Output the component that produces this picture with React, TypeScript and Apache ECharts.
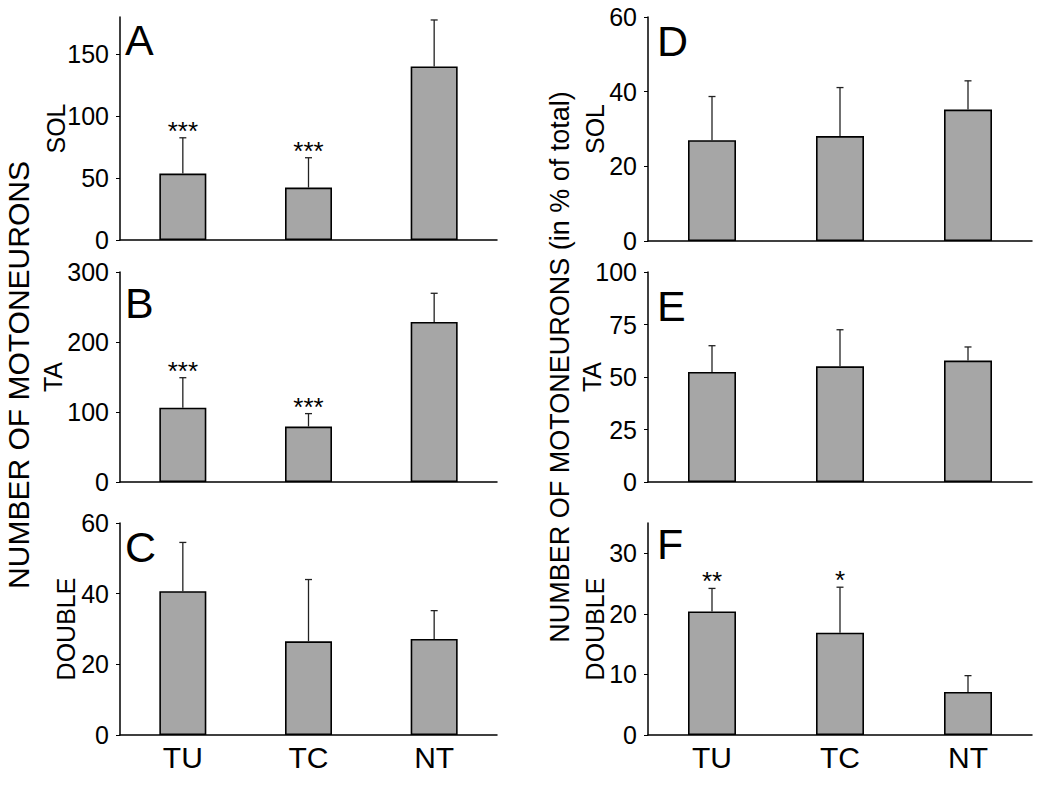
import React, { useEffect, useRef } from "react";
import * as echarts from "echarts";

const FONT = '"Liberation Sans", Arial, Helvetica, sans-serif';

// ---- data ----
const categories = ["TU", "TC", "NT"];

const solCount = [53.6, 42.3, 140.1];
const solCountErr = [82.5, 66.4, 177.6];
const solCountSig = ["***", "***", ""];

const taCount = [106.2, 79.2, 228.7];
const taCountErr = [149, 97.7, 269.6];
const taCountSig = ["***", "***", ""];

const doubleCount = [40.7, 26.5, 27.2];
const doubleCountErr = [54.5, 44, 35.2];
const doubleCountSig = ["", "", ""];

const solPct = [27.0, 28.1, 35.2];
const solPctErr = [38.7, 41.1, 42.9];
const solPctSig = ["", "", ""];

const taPct = [52.4, 55.1, 57.8];
const taPctErr = [64.9, 72.5, 64.3];
const taPctSig = ["", "", ""];

const doublePct = [20.4, 16.9, 7.1];
const doublePctErr = [24.2, 24.4, 9.8];
const doublePctSig = ["**", "*", ""];

const ticksSolCount = [0, 50, 100, 150];
const ticksTaCount = [0, 100, 200, 300];
const ticksDoubleCount = [0, 20, 40, 60];
const ticksSolPct = [0, 20, 40, 60];
const ticksTaPct = [0, 25, 50, 75, 100];
const ticksDoublePct = [0, 10, 20, 30];

const leftTitle = "NUMBER OF MOTONEURONS";
const rightTitle = "NUMBER OF MOTONEURONS (in % of total)";

// ---- layout ----
const panels = [
  { letter: "A", left: 120, top: 17, width: 377, height: 223, max: 180, interval: 50, ticks: ticksSolCount, name: "SOL", nameGap: 52, values: solCount, err: solCountErr, sig: solCountSig, showX: false, barWidth: 47 },
  { letter: "B", left: 120, top: 272, width: 377, height: 210, max: 300, interval: 100, ticks: ticksTaCount, name: "TA", nameGap: 55, values: taCount, err: taCountErr, sig: taCountSig, showX: false, barWidth: 47 },
  { letter: "C", left: 120, top: 523, width: 377, height: 212, max: 60, interval: 20, ticks: ticksDoubleCount, name: "DOUBLE", nameGap: 42, values: doubleCount, err: doubleCountErr, sig: doubleCountSig, showX: true, barWidth: 47 },
  { letter: "D", left: 648, top: 17, width: 384, height: 224, max: 60, interval: 20, ticks: ticksSolPct, name: "SOL", nameGap: 41, values: solPct, err: solPctErr, sig: solPctSig, showX: false, barWidth: 48 },
  { letter: "E", left: 648, top: 272, width: 384, height: 210, max: 100, interval: 25, ticks: ticksTaPct, name: "TA", nameGap: 44, values: taPct, err: taPctErr, sig: taPctSig, showX: false, barWidth: 48 },
  { letter: "F", left: 648, top: 523, width: 384, height: 212, max: 35, interval: 10, ticks: ticksDoublePct, name: "DOUBLE", nameGap: 41, values: doublePct, err: doublePctErr, sig: doublePctSig, showX: true, barWidth: 48 },
];

const letterPos = [
  { x: 125, y: 40 },
  { x: 125, y: 303 },
  { x: 125, y: 547 },
  { x: 657, y: 41 },
  { x: 657, y: 306 },
  { x: 657, y: 544 },
];

export default function App() {
  const ref = useRef<HTMLDivElement>(null);

  useEffect(() => {
    if (!ref.current) return;
    const chart = echarts.init(ref.current, undefined, { renderer: "svg" });

    const grid: any[] = [];
    const xAxis: any[] = [];
    const yAxis: any[] = [];
    const series: any[] = [];

    panels.forEach((p, i) => {
      grid.push({ left: p.left, top: p.top, width: p.width, height: p.height, containLabel: false });
      xAxis.push({
        type: "category",
        gridIndex: i,
        data: categories,
        axisLine: { lineStyle: { color: "#000", width: 1.5 } },
        axisTick: { show: false },
        axisLabel: { show: p.showX, color: "#000", fontSize: 30, fontFamily: FONT, margin: 7 },
        splitLine: { show: false },
      });
      yAxis.push({
        type: "value",
        gridIndex: i,
        min: 0,
        max: p.max,
        interval: p.interval,
        axisLine: { show: true, lineStyle: { color: "#000", width: 1.5 } },
        axisTick: { show: true, length: 4, lineStyle: { color: "#000", width: 1 }, customValues: p.ticks },
        axisLabel: { color: "#000", fontSize: 25, fontFamily: FONT, margin: 11, customValues: p.ticks },
        splitLine: { show: false },
        name: p.name,
        nameLocation: "middle",
        nameGap: p.nameGap,
        nameMoveOverlap: false,
        nameTextStyle: { color: "#000", fontSize: 25, fontFamily: FONT },
      });
      series.push({
        type: "bar",
        xAxisIndex: i,
        yAxisIndex: i,
        data: p.values,
        barWidth: p.barWidth,
        silent: true,
        itemStyle: { color: "#a6a6a6", borderColor: "#000", borderWidth: 1.6 },
      });
      const sig = p.sig;
      series.push({
        type: "custom",
        xAxisIndex: i,
        yAxisIndex: i,
        silent: true,
        z: 5,
        encode: { x: 0, y: 1 },
        data: p.values.map((v, j) => [j, v, p.err[j]]),
        renderItem: (params: any, api: any) => {
          const j = api.value(0);
          const v = api.value(1);
          const e = api.value(2);
          const p0 = api.coord([j, v]);
          const p1 = api.coord([j, e]);
          const children: any[] = [
            { type: "line", shape: { x1: p0[0], y1: p0[1], x2: p1[0], y2: p1[1] }, style: { stroke: "#222", lineWidth: 1.3 } },
            { type: "line", shape: { x1: p1[0] - 3.5, y1: p1[1], x2: p1[0] + 3.5, y2: p1[1] }, style: { stroke: "#222", lineWidth: 1.3 } },
          ];
          const s = sig[params.dataIndex];
          if (s) {
            children.push({
              type: "text",
              x: p1[0],
              y: p1[1] - 7,
              style: {
                text: s,
                fill: "#000",
                font: `26px ${FONT}`,
                textAlign: "center",
                textVerticalAlign: "middle",
                align: "center",
                verticalAlign: "middle",
              },
            });
          }
          return { type: "group", children };
        },
      });
    });

    const graphic: any[] = [
      {
        type: "text",
        x: 18,
        y: 375,
        rotation: Math.PI / 2,
        style: { text: leftTitle, fill: "#000", font: `30px ${FONT}`, textAlign: "center", textVerticalAlign: "middle", align: "center", verticalAlign: "middle" },
      },
      {
        type: "text",
        x: 560,
        y: 367,
        rotation: Math.PI / 2,
        style: { text: rightTitle, fill: "#000", font: `27px ${FONT}`, textAlign: "center", textVerticalAlign: "middle", align: "center", verticalAlign: "middle" },
      },
    ];
    panels.forEach((p, i) => {
      graphic.push({
        type: "text",
        x: letterPos[i].x,
        y: letterPos[i].y,
        style: { text: p.letter, fill: "#000", font: `43px ${FONT}`, textAlign: "left", textVerticalAlign: "middle", align: "left", verticalAlign: "middle" },
      });
    });

    chart.setOption({
      animation: false,
      backgroundColor: "#fff",
      grid,
      xAxis,
      yAxis,
      series,
      graphic,
    });

    return () => chart.dispose();
  }, []);

  return <div ref={ref} style={{ position: "absolute", left: 0, top: 0, width: 1050, height: 789 }} />;
}
